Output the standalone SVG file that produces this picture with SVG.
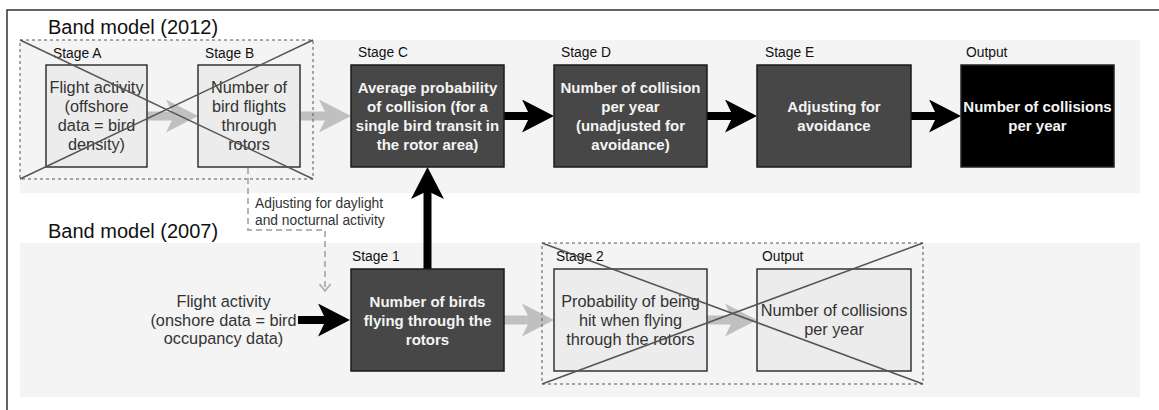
<svg xmlns="http://www.w3.org/2000/svg" width="1159" height="410" viewBox="0 0 1159 410">
<style>
text{font-family:"Liberation Sans",Arial,Helvetica,sans-serif}
.band{fill:#f4f4f4}
.title{font-size:20px;fill:#111}
.stage{font-size:13.8px;fill:#111}
.lbox{fill:#ececec;stroke:#333;stroke-width:1.5}
.dbox{fill:#474747;stroke:#1a1a1a;stroke-width:1.5}
.obox{fill:#000;stroke:#222;stroke-width:1.5}
.lt{font-size:16.3px;fill:#333;text-anchor:middle}
.dt{font-size:15px;font-weight:bold;fill:#f4f4f4;text-anchor:middle}
.blk{stroke:#000;stroke-width:8;fill:none}
.gry{stroke:#c0c0c0;stroke-width:9;fill:none}
.dash{stroke:#b3b3b3;stroke-width:2;stroke-dasharray:6 4;fill:none}
.grp{fill:none;stroke:#555;stroke-width:1;stroke-dasharray:3 3}
.cross{stroke:#555;stroke-width:1.5;fill:none}
.note{font-size:13.8px;fill:#333}
</style>
<defs>
<marker id="hb" markerUnits="userSpaceOnUse" viewBox="0 0 32 33" markerWidth="32" markerHeight="33" refX="10" refY="16.5" orient="auto">
<path d="M0,0 L32,16.5 L0,33 L8,16.5 Z" fill="#000"/>
</marker>
<marker id="hg" markerUnits="userSpaceOnUse" viewBox="0 0 32 33" markerWidth="32" markerHeight="33" refX="10" refY="16.5" orient="auto">
<path d="M0,0 L32,16.5 L0,33 L8,16.5 Z" fill="#c0c0c0"/>
</marker>
<marker id="ho" markerUnits="userSpaceOnUse" viewBox="-1 -7 10 14" markerWidth="10" markerHeight="14" refX="7" refY="0" orient="auto">
<path d="M0,-5.5 L7,0 L0,5.5" fill="none" stroke="#b3b3b3" stroke-width="2"/>
</marker>
</defs>

<path d="M7,410 V10 H1159" fill="none" stroke="#333" stroke-width="1.5"/>

<g id="bands">
<rect class="band" x="20" y="40" width="1120" height="153"/>
<rect class="band" x="20" y="243" width="1120" height="154"/>
<text class="title" x="48" y="34">Band model (2012)</text>
<text class="title" x="48" y="238">Band model (2007)</text>
</g>

<g id="connectors">
<line class="gry" x1="147" y1="116" x2="176" y2="116" marker-end="url(#hg)"/>
<line class="gry" x1="300" y1="116" x2="329" y2="116" marker-end="url(#hg)"/>
<line class="blk" x1="504" y1="116" x2="532" y2="116" marker-end="url(#hb)"/>
<line class="blk" x1="707" y1="116" x2="735" y2="116" marker-end="url(#hb)"/>
<line class="blk" x1="911" y1="116" x2="939" y2="116" marker-end="url(#hb)"/>
<line class="blk" x1="427.5" y1="269" x2="427.5" y2="189" marker-end="url(#hb)"/>
<line class="blk" x1="298" y1="320" x2="328" y2="320" marker-end="url(#hb)"/>
<line class="gry" x1="504" y1="320" x2="532" y2="320" marker-end="url(#hg)"/>
<line class="gry" x1="707" y1="320" x2="735" y2="320" marker-end="url(#hg)"/>
<path class="dash" d="M248,168 V230 H325 V291" marker-end="url(#ho)"/>
<text class="note" x="255" y="208">Adjusting for daylight</text>
<text class="note" x="255" y="225">and nocturnal activity</text>
</g>

<g id="stageA">
<text class="stage" x="53" y="58">Stage A</text>
<rect class="lbox" x="46" y="65" width="101" height="102"/>
<text class="lt" x="96.5" y="93">Flight activity</text>
<text class="lt" x="96.5" y="112">(offshore</text>
<text class="lt" x="96.5" y="131">data = bird</text>
<text class="lt" x="96.5" y="150">density)</text>
</g>
<g id="stageB">
<text class="stage" x="205" y="58">Stage B</text>
<rect class="lbox" x="198" y="65" width="102" height="102"/>
<text class="lt" x="249" y="93">Number of</text>
<text class="lt" x="249" y="112">bird flights</text>
<text class="lt" x="249" y="131">through</text>
<text class="lt" x="249" y="150">rotors</text>
</g>
<g id="stageC">
<text class="stage" x="358" y="57">Stage C</text>
<rect class="dbox" x="351" y="65" width="153" height="102"/>
<text class="dt" x="427.5" y="93">Average probability</text>
<text class="dt" x="427.5" y="112">of collision (for a</text>
<text class="dt" x="427.5" y="131">single bird transit in</text>
<text class="dt" x="427.5" y="150">the rotor area)</text>
</g>
<g id="stageD">
<text class="stage" x="561" y="57">Stage D</text>
<rect class="dbox" x="554" y="65" width="153" height="102"/>
<text class="dt" x="630.5" y="93">Number of collision</text>
<text class="dt" x="630.5" y="112">per year</text>
<text class="dt" x="630.5" y="131">(unadjusted for</text>
<text class="dt" x="630.5" y="150">avoidance)</text>
</g>
<g id="stageE">
<text class="stage" x="765" y="57">Stage E</text>
<rect class="dbox" x="757" y="65" width="154" height="102"/>
<text class="dt" x="834" y="112">Adjusting for</text>
<text class="dt" x="834" y="131">avoidance</text>
</g>
<g id="output2012">
<text class="stage" x="966" y="57">Output</text>
<rect class="obox" x="961" y="65" width="153" height="102"/>
<text class="dt" x="1037.5" y="112">Number of collisions</text>
<text class="dt" x="1037.5" y="131">per year</text>
</g>

<g id="flight2007">
<text class="lt" x="223.5" y="307">Flight activity</text>
<text class="lt" x="223.5" y="325.5">(onshore data = bird</text>
<text class="lt" x="223.5" y="344">occupancy data)</text>
</g>
<g id="stage1">
<text class="stage" x="352" y="261">Stage 1</text>
<rect class="dbox" x="351" y="269" width="153" height="102"/>
<text class="dt" x="427.5" y="306.5">Number of birds</text>
<text class="dt" x="427.5" y="325.5">flying through the</text>
<text class="dt" x="427.5" y="344.5">rotors</text>
</g>
<g id="stage2">
<text class="stage" x="556" y="261">Stage 2</text>
<rect class="lbox" x="554" y="269" width="153" height="102"/>
<text class="lt" x="630.5" y="306.5">Probability of being</text>
<text class="lt" x="630.5" y="325.5">hit when flying</text>
<text class="lt" x="630.5" y="344.5">through the rotors</text>
</g>
<g id="output2007">
<text class="stage" x="762" y="261">Output</text>
<rect class="lbox" x="757" y="269" width="154" height="102"/>
<text class="lt" x="834" y="316">Number of collisions</text>
<text class="lt" x="834" y="335">per year</text>
</g>

<g id="excluded2012">
<rect class="grp" x="20" y="40" width="293" height="139"/>
<line class="cross" x1="20" y1="40" x2="313" y2="179"/>
<line class="cross" x1="20" y1="179" x2="313" y2="40"/>
</g>
<g id="excluded2007">
<rect class="grp" x="542" y="243" width="381" height="141"/>
<line class="cross" x1="542" y1="243" x2="923" y2="384"/>
<line class="cross" x1="542" y1="384" x2="923" y2="243"/>
</g>
</svg>
